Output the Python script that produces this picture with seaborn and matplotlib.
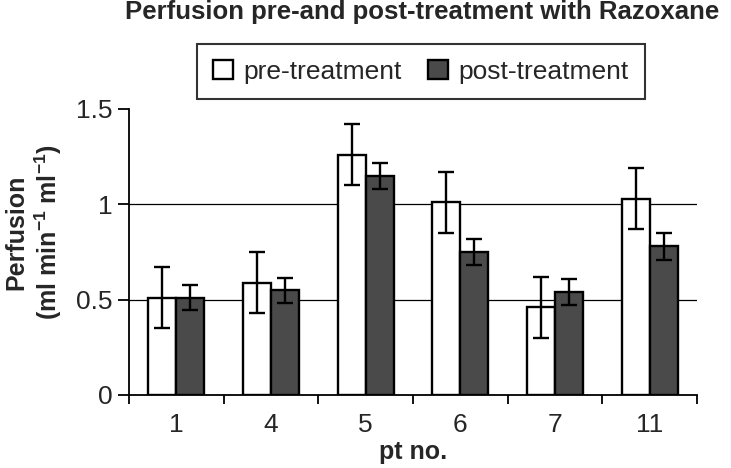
import matplotlib
matplotlib.use("Agg")
import matplotlib.pyplot as plt
import seaborn as sns
import pandas as pd
import numpy as np

# ---- data ----
patients = ["1", "4", "5", "6", "7", "11"]
pre_values = [0.51, 0.59, 1.26, 1.01, 0.46, 1.03]
pre_errors = [0.16, 0.16, 0.16, 0.16, 0.16, 0.16]
post_values = [0.51, 0.55, 1.15, 0.75, 0.54, 0.78]
post_errors = [0.066, 0.065, 0.067, 0.066, 0.07, 0.072]
series_names = ["pre-treatment", "post-treatment"]
y_ticks = [0, 0.5, 1, 1.5]
y_tick_labels = ["0", "0.5", "1", "1.5"]

df = pd.DataFrame({
    "pt": patients * 2,
    "perfusion": pre_values + post_values,
    "series": [series_names[0]] * len(patients) + [series_names[1]] * len(patients),
})

sns.set_style("white")
plt.rcParams["font.family"] = ["Liberation Sans", "DejaVu Sans"]
plt.rcParams["mathtext.fontset"] = "custom"
plt.rcParams["mathtext.bf"] = "Liberation Sans:bold"
plt.rcParams["mathtext.rm"] = "Liberation Sans:bold"

fig = plt.figure(figsize=(7.31, 4.68), dpi=100)
ax = fig.add_axes([129 / 731, 1 - 395 / 468, (697 - 129) / 731, (395 - 109) / 468])

sns.barplot(data=df, x="pt", y="perfusion", hue="series", order=patients,
            hue_order=series_names, palette=["white", "#4a4a4a"],
            edgecolor="black", linewidth=1.7, width=0.59, saturation=1,
            errorbar=None, ax=ax, zorder=3, legend=True)

# error bars
for cont, vals, errs in zip(ax.containers, [pre_values, post_values], [pre_errors, post_errors]):
    xs = [p.get_x() + p.get_width() / 2 for p in cont.patches]
    ax.errorbar(xs, vals, yerr=errs, fmt="none", ecolor="black",
                elinewidth=1.7, capsize=5.5, capthick=1.7, zorder=4)

# gridlines
for yv in y_ticks[1:-1]:
    ax.axhline(yv, color="black", linewidth=0.9, zorder=1)

ax.set_xlim(-0.5, len(patients) - 0.5)
ax.set_ylim(0, 1.5)
ax.set_yticks(y_ticks)
ax.set_yticklabels(y_tick_labels)
ax.set_xticks(range(len(patients)))
ax.set_xticklabels(patients)
ax.set_xticks(np.arange(-0.5, len(patients), 1), minor=True)
ax.tick_params(axis="x", which="major", length=0, pad=13, labelsize=19)
ax.tick_params(axis="x", which="minor", length=6.5, width=1.3, direction="out", color="black", bottom=True)
ax.tick_params(axis="y", length=8, width=1.3, direction="out", color="black", left=True, labelsize=19, pad=4)

for s in ["top", "right"]:
    ax.spines[s].set_visible(False)
for s in ["left", "bottom"]:
    ax.spines[s].set_color("black")
    ax.spines[s].set_linewidth(1.3)

ax.set_xlabel("pt no.", fontsize=18, fontweight="bold", labelpad=2)
ax.set_ylabel("Perfusion\n" + r"(ml min$^{\mathbf{-1}}$ ml$^{\mathbf{-1}}$)",
              fontsize=18, fontweight="bold", linespacing=1.2)
ax.yaxis.set_label_coords(-0.114, 0.57)

handles, labels = ax.get_legend_handles_labels()
if ax.get_legend() is not None:
    ax.get_legend().remove()
leg = fig.legend(handles, labels, loc="center", bbox_to_anchor=(421 / 731, 1 - 71.5 / 468),
                 ncol=2, frameon=True, fancybox=False, edgecolor="black", fontsize=19,
                 handlelength=0.75, handleheight=0.75, handletextpad=0.4, columnspacing=1.0,
                 borderpad=0.6)
leg.get_frame().set_linewidth(1.5)

fig.text(422 / 731, 1 - 18.5 / 468, "Perfusion pre-and post-treatment with Razoxane",
         ha="center", va="baseline", fontsize=18.5, fontweight="bold")

fig.savefig("out.png", dpi=100)
